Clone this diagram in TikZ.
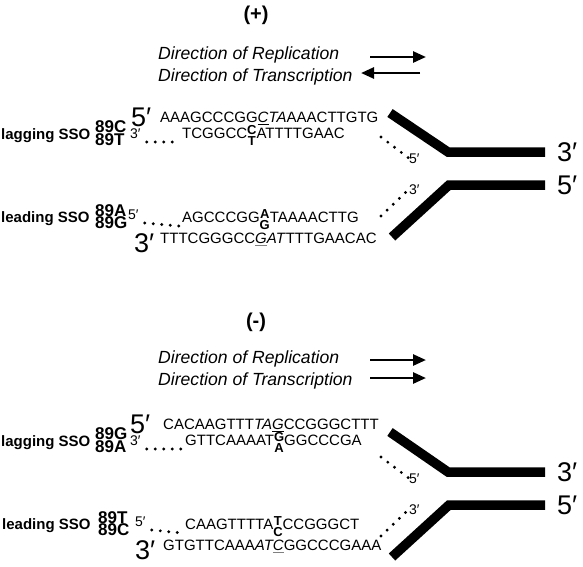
\documentclass[tikz,border=0pt]{standalone}
\usepackage{fontspec}
\setmainfont{Liberation Sans}
\usetikzlibrary{arrows.meta}
% stacked variant bases
\newcommand\snp[2]{\raisebox{-7pt}{\vbox{\offinterlineskip\fontsize{13}{13}\selectfont\bfseries
  \halign{\hfil##\hfil\cr #1\cr\noalign{\kern1.5pt}#2\cr}}}}
% underlined base of the codon
\newcommand\codonline[2]{\setbox0\hbox{#2}\rlap{\color{#1}\rule[-2.6pt]{\wd0}{1pt}}\box0}
\begin{document}
\begin{tikzpicture}[x=1pt, y=-1pt, >={Triangle[length=13pt, width=11pt]},
	seq/.style={anchor=base west, inner sep=0pt, font=\fontsize{15}{15}\selectfont},
	big/.style={anchor=base west, inner sep=0pt, font=\fontsize{27}{27}\selectfont},
	small/.style={anchor=base west, inner sep=0pt, font=\fontsize{14}{14}\selectfont},
	sso/.style={anchor=base west, inner sep=0pt, font=\fontsize{15}{15}\selectfont\bfseries},
	allele/.style={anchor=base west, inner sep=0pt, font=\fontsize{17}{17}\selectfont\bfseries},
	head/.style={inner sep=0pt, font=\fontsize{20}{20}\selectfont\bfseries},
	dirtext/.style={anchor=base west, inner sep=0pt, font=\fontsize{17.6}{17.6}\selectfont\itshape},
	dirarrow/.style={line width=2.6pt},
	dotline/.style={line width=3.2pt, line cap=round, dash pattern=on 0pt off 8.5pt},
	fork/.style={line width=9.5pt, line join=miter}]
	\useasboundingbox (0,0) rectangle (583,566);

	%% (+) strand
	\node [head] (plus) at (256,15) {(+)};
	\node [dirtext] (repP) at (158,59) {Direction of Replication};
	\node [dirtext] (trP) at (158,81) {Direction of Transcription};
	\coordinate (repPa) at (370,57);
	\coordinate (repPb) at (426,57);
	\coordinate (trPa) at (420,73);
	\coordinate (trPb) at (361,73);
	\draw [dirarrow, ->] (repPa) -- (repPb);
	\draw [dirarrow, ->] (trPa) -- (trPb);

	% lagging
	\node [big] (lagP5) at (131,126) {5′};
	\node [seq] (lagPout) at (160,122) {AAAGCCCGG\codonline{black}{\textit{C}}\textit{TA}AAACTTGTG};
	\node [sso] (lagPsso) at (1,139) {lagging SSO};
	\node [allele] (lagPa) at (95,132.5) {89C};
	\node [allele] (lagPb) at (95,145) {89T};
	\node [small] (lagP3) at (130,138) {3′};
	\node [seq] (lagPin) at (182,138) {TCGGCC\snp{C}{T}ATTTTGAAC};
	\node [small] (lagPend) at (409,163) {5′};
	\draw [dotline] ([xshift=6pt,yshift=-4pt]lagP3.base east) -- ([xshift=-3pt,yshift=-4pt]lagPin.base west);
	\coordinate (lagPd) at (381,137);
	\draw [dotline] (lagPd) -- (lagPend.west);

	% leading
	\node [sso] (leadPsso) at (1,222) {leading SSO};
	\node [allele] (leadPa) at (95,216) {89A};
	\node [allele] (leadPb) at (95,228.5) {89G};
	\node [small] (leadP5) at (128,219) {5′};
	\node [seq] (leadPin) at (182,222) {AGCCCGG\snp{A}{G}TAAAACTTG};
	\node [big] (leadP3) at (134,252) {3′};
	\node [seq] (leadPout) at (160,243) {TTTCGGGCC\codonline{gray}{\textit{G}}\textit{AT}TTTGAACAC};
	\node [small] (leadPend) at (409,194) {3′};
	\draw [dotline] ([xshift=6pt,yshift=-4pt]leadP5.base east) -- ([xshift=-3pt,yshift=-4pt]leadPin.base west);
	\coordinate (leadPd) at (381,216);
	\draw [dotline] (leadPd) -- (leadPend.west);

	% fork
	\draw [fork] (390,113) -- (448,152) -- (545,152);
	\draw [fork] (545,185) -- (449,185) -- (392,237);
	\node [big, anchor=west] (forkP3) at (557,152) {3′};
	\node [big, anchor=west] (forkP5) at (557,185) {5′};

	%% (-) strand
	\node [head] (minus) at (256,322) {(-)};
	\node [dirtext] (repM) at (158,363) {Direction of Replication};
	\node [dirtext] (trM) at (158,385) {Direction of Transcription};
	\coordinate (repMa) at (370,360);
	\coordinate (repMb) at (426,360);
	\coordinate (trMa) at (370,378);
	\coordinate (trMb) at (426,378);
	\draw [dirarrow, ->] (repMa) -- (repMb);
	\draw [dirarrow, ->] (trMa) -- (trMb);

	% lagging
	\node [big] (lagM5) at (130,433) {5′};
	\node [seq] (lagMout) at (163,429) {CACAAGTTT\textit{TA\codonline{black}{G}}CCGGGCTTT};
	\node [sso] (lagMsso) at (1,446) {lagging SSO};
	\node [allele] (lagMa) at (95,439.5) {89G};
	\node [allele] (lagMb) at (95,452) {89A};
	\node [small] (lagM3) at (130,445) {3′};
	\node [seq] (lagMin) at (185,445) {GTTCAAAAT\snp{G}{A}GGCCCGA};
	\node [small] (lagMend) at (409,483) {5′};
	\draw [dotline] ([xshift=6pt,yshift=-4pt]lagM3.base east) -- ([xshift=-3pt,yshift=-4pt]lagMin.base west);
	\coordinate (lagMd) at (381,457);
	\draw [dotline] (lagMd) -- (lagMend.west);

	% leading
	\node [sso] (leadMsso) at (2,529) {leading SSO};
	\node [allele] (leadMa) at (98,523) {89T};
	\node [allele] (leadMb) at (98,535.5) {89C};
	\node [small] (leadM5) at (135,526) {5′};
	\node [seq] (leadMin) at (185,529) {CAAGTTTTA\snp{T}{C}CCGGGCT};
	\node [big] (leadM3) at (135,559) {3′};
	\node [seq] (leadMout) at (163,550) {GTGTTCAAA\textit{AT\codonline{gray}{C}}GGCCCGAAA};
	\node [small] (leadMend) at (409,514) {3′};
	\draw [dotline] ([xshift=6pt,yshift=-4pt]leadM5.base east) -- ([xshift=-3pt,yshift=-4pt]leadMin.base west);
	\coordinate (leadMd) at (381,536);
	\draw [dotline] (leadMd) -- (leadMend.west);

	% fork
	\draw [fork] (390,432) -- (448,472) -- (545,472);
	\draw [fork] (545,505) -- (449,505) -- (392,557);
	\node [big, anchor=west] (forkM3) at (557,472) {3′};
	\node [big, anchor=west] (forkM5) at (557,505) {5′};
\end{tikzpicture}
\end{document}
